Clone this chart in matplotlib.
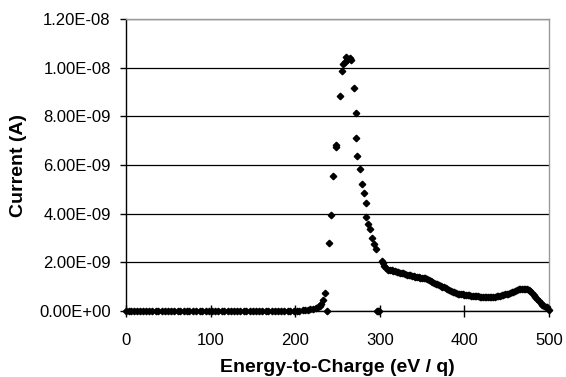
import matplotlib.pyplot as plt
from matplotlib.ticker import FuncFormatter

# Energy-to-charge (eV/q) and current (nA)
energy_low = [0, 3, 6, 10, 13, 17, 20, 24, 27, 31, 35, 38, 42, 46, 50, 53, 57, 61,
              64, 68, 72, 75, 79, 83, 87, 90, 94, 98, 102, 105, 109, 113, 116, 120,
              124, 128, 131, 135, 139, 142, 146, 150, 154, 157, 161, 165, 168, 172,
              176, 180, 183, 187, 191, 194, 198, 202, 205, 209, 212, 215, 218, 221,
              224, 227, 229, 231, 233, 235, 238]
current_low = [0] * 56 + [0.02, 0.03, 0.04, 0.06, 0.07, 0.09, 0.12, 0.15, 0.2,
                          0.27, 0.45, 0.73, 0.0]

energy_peak = [240, 242.7, 245, 248, 248.5, 252.6, 255, 256.5, 258.5, 259.7, 261.6,
               264.4, 266.3, 269, 271.9, 272, 273.5, 276.2, 279, 281.3, 283.3, 283.5,
               286.5, 288.8, 290.4, 292.8, 295.9, 297, 298, 299, 302.6, 303.8, 305,
               307.7]
current_peak = [2.78, 3.95, 5.55, 6.74, 6.82, 8.85, 9.88, 10.14, 10.25, 10.43, 10.32,
                10.38, 10.32, 9.15, 8.12, 7.10, 6.36, 5.82, 5.23, 4.84, 4.43, 3.88,
                3.56, 3.36, 3.01, 2.74, 2.54, 0.0, 0.0, 0.0, 2.07, 1.96, 1.85, 1.75]

energy_tail = list(range(310, 502, 2))
current_tail = [1.70, 1.69, 1.68, 1.66, 1.65, 1.62, 1.60, 1.58, 1.56, 1.55, 1.52, 1.50,
                1.48, 1.47, 1.45, 1.43, 1.41, 1.40, 1.38, 1.37, 1.36, 1.35, 1.34, 1.32,
                1.28, 1.24, 1.21, 1.17, 1.13, 1.10, 1.06, 1.03, 1.00, 0.97, 0.93, 0.90,
                0.87, 0.83, 0.80, 0.77, 0.74, 0.72, 0.70, 0.69, 0.68, 0.67, 0.66, 0.65,
                0.64, 0.63, 0.63, 0.62, 0.61, 0.60, 0.59, 0.59, 0.58, 0.58, 0.57, 0.57,
                0.56, 0.57, 0.58, 0.59, 0.60, 0.61, 0.62, 0.64, 0.66, 0.68, 0.70, 0.72,
                0.74, 0.77, 0.80, 0.84, 0.87, 0.89, 0.90, 0.90, 0.91, 0.90, 0.89, 0.87,
                0.82, 0.74, 0.64, 0.56, 0.48, 0.40, 0.32, 0.25, 0.19, 0.16, 0.15, 0.04]

energy = energy_low + energy_peak + energy_tail
current = [c * 1e-9 for c in current_low + current_peak + current_tail]

plt.rcParams['font.family'] = ['Liberation Sans', 'DejaVu Sans']

fig = plt.figure(figsize=(5.66, 3.77), dpi=100)
ax = fig.add_axes([0.2226, 0.175, 0.7474, 0.7746])

ax.plot(energy, current, linestyle='none', marker='D', markersize=3.3,
        color='black', clip_on=False, zorder=3)

ax.set_xlim(0, 500)
ax.set_ylim(0, 1.2e-8)
ax.set_xticks([0, 100, 200, 300, 400, 500])
ax.set_yticks([i * 2e-9 for i in range(7)])
ax.yaxis.set_major_formatter(FuncFormatter(lambda v, p: f"{v:.2E}"))

ax.yaxis.grid(True, color='black', linewidth=0.9)
ax.set_axisbelow(True)

ax.spines['left'].set_color('black')
ax.spines['bottom'].set_color('black')
ax.spines['top'].set_color('#999999')
ax.spines['right'].set_color('#999999')
for s in ax.spines.values():
    s.set_linewidth(1)

ax.tick_params(axis='y', direction='out', length=4, width=1, labelsize=12, pad=7)
ax.tick_params(axis='x', direction='inout', length=8, width=1, labelsize=12, pad=12)

ax.set_xlabel('Energy-to-Charge (eV / q)', fontsize=14, fontweight='bold', labelpad=8)
ax.set_ylabel('Current (A)', fontsize=14, fontweight='bold', labelpad=9)

fig.savefig('out.png', dpi=100)
